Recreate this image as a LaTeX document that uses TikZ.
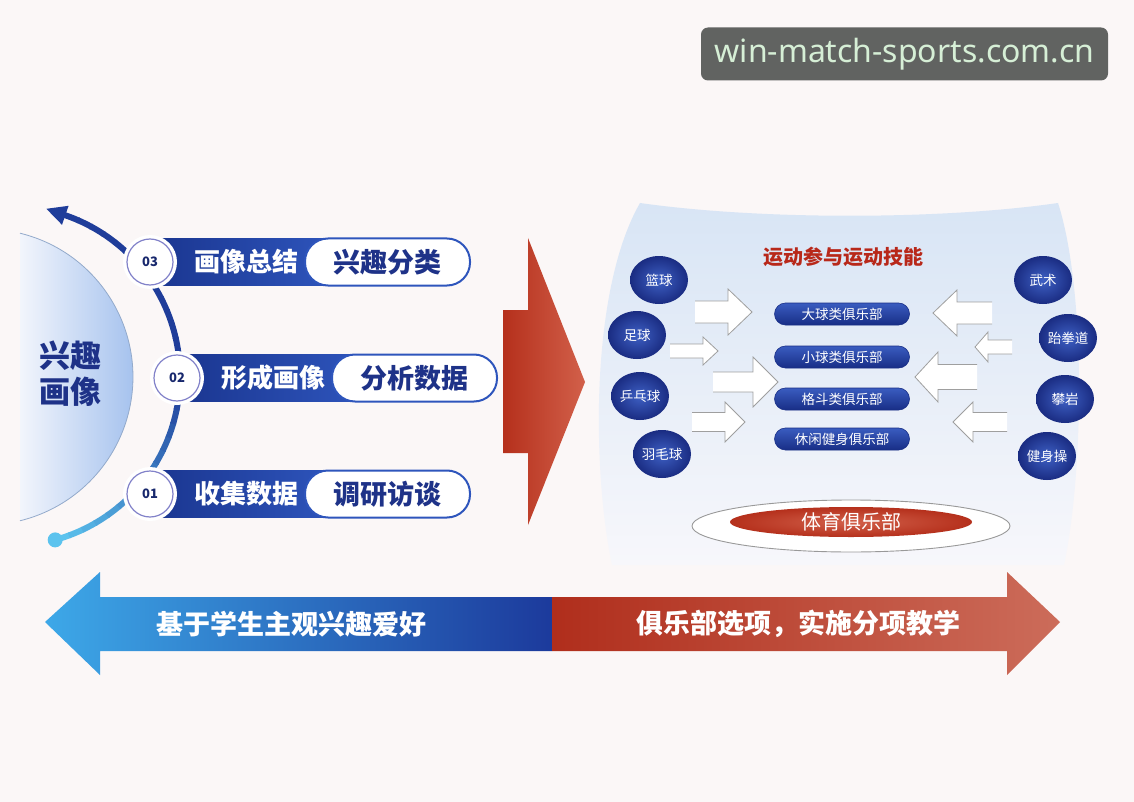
\documentclass[tikz,border=0pt]{standalone}
\usepackage{fontspec}
\setmainfont{Noto Sans CJK SC}
\newfontfamily\wmfont{Noto Sans}
\usetikzlibrary{calc}
\definecolor{bgc}{HTML}{FBF7F7}
\definecolor{navy}{HTML}{1E3288}
\definecolor{barL}{HTML}{1A358F}
\definecolor{barR}{HTML}{2E55BC}
\definecolor{arcdark}{HTML}{1F3D9A}
\definecolor{arclight}{HTML}{5CC3EE}
\definecolor{diskL}{HTML}{F2F5FC}
\definecolor{diskR}{HTML}{9CBCEC}
\definecolor{redL}{HTML}{B5301C}
\definecolor{redR}{HTML}{D2604A}
\definecolor{panelT}{HTML}{D8E5F5}
\definecolor{panelB}{HTML}{F7F7FB}
\definecolor{ttlred}{HTML}{B8281A}
\definecolor{ballin}{HTML}{3E60C4}
\definecolor{ballout}{HTML}{1A2C82}
\definecolor{pillT}{HTML}{3A5CC0}
\definecolor{pillB}{HTML}{182E86}
\definecolor{wmbg}{HTML}{616361}
\definecolor{wmtx}{HTML}{D6EFD6}
\definecolor{lblue}{HTML}{3DA8E8}
\definecolor{dblue}{HTML}{1C3A9C}
\definecolor{rdark}{HTML}{B02E1C}
\definecolor{rlight}{HTML}{CC6C5A}
\tikzset{
  numcirc/.style={circle,fill=white,draw=gray!60!blue!70,line width=1.2pt,minimum size=46pt,inner sep=0pt,font=\fontsize{13}{14}\selectfont\bfseries,text=navy!80!black},
  rowlbl/.style={font=\fontsize{26}{30}\selectfont\bfseries,text=white,inner sep=0pt},
  pillbox/.style={rectangle,rounded corners=23pt,fill=white,draw=barR,line width=2pt,minimum width=165pt,minimum height=47pt,inner sep=0pt,font=\fontsize{27}{30}\selectfont\bfseries,text=navy},
  ball/.style={ellipse,inner sep=0pt,font=\fontsize{13.5}{15}\selectfont,text=white},
  clubpill/.style={rectangle,rounded corners=11pt,top color=pillT,bottom color=pillB,draw=pillB,line width=0.6pt,minimum width=135pt,minimum height=22pt,inner sep=0pt,font=\fontsize{13.5}{15}\selectfont,text=white},
  warrowline/.style={draw=gray!75,line width=0.8pt,line join=miter},
  bigtxt/.style={font=\fontsize{27}{30}\selectfont\bfseries,text=white,inner sep=0pt}
}
\usetikzlibrary{shapes.geometric}
\newcommand\warrow[6]{% sx, hx, tx, ty, s, h
  \fill[white] (#1,#4-#5) -- (#2,#4-#5) -- (#2,#4-#6) -- (#3,#4) -- (#2,#4+#6) -- (#2,#4+#5) -- (#1,#4+#5) -- cycle;
  \draw[warrowline] (#1,#4-#5) -- (#2,#4-#5) -- (#2,#4-#6) -- (#3,#4) -- (#2,#4+#6) -- (#2,#4+#5) -- (#1,#4+#5);
}
\begin{document}
\begin{tikzpicture}[x=1pt,y=-1pt]
\fill[bgc] (0,0) rectangle (1134,802);
\useasboundingbox (0,0) rectangle (1134,802);

% watermark
\node[fill=wmbg,rounded corners=7pt,minimum width=407pt,minimum height=53pt,inner sep=0pt,text=wmtx,font=\wmfont\fontsize{32}{36}\selectfont] (wm) at (904.5,54) {win-match-sports.com.cn};

% left disk
\shade[left color=diskL,right color=diskR] (20,233.2) arc[start angle=-76.3,end angle=76.3,radius=148] -- cycle;
\draw[draw=diskR!70!gray,line width=0.8pt] (20,233.2) arc[start angle=-76.3,end angle=76.3,radius=148];
\node[font=\fontsize{31}{36}\selectfont\bfseries,text=navy,align=center,inner sep=0pt] (disk) at (70,374) {兴趣\\画像};

% arc with gradient
\foreach \i in {0,...,29}{
  \pgfmathsetmacro\a{74.6-\i*145.6/30}
  \pgfmathsetmacro\b{\a-145.6/30-0.4}
  \pgfmathtruncatemacro\p{min(100,100*\i/14)}
  \draw[line width=6pt,arcdark!\p!arclight] ($(10,376)+(\a:170)$) arc[start angle=\a,end angle=\b,radius=170];
}
\fill[arcdark] (46.4,208.8) -- (68.6,205.8) -- (62.0,224.8) -- cycle;
\coordinate (arctip) at (46.4,208.8);
\fill[arclight] (55.2,539.9) circle[radius=7.5];

% rows
\shade[left color=barL,right color=barR] (150,238.5) rectangle (335,285.5);
\shade[left color=barL,right color=barR] (177,354.5) rectangle (362,401.5);
\shade[left color=barL,right color=barR] (150,470.5) rectangle (335,517.5);
\foreach \x/\y in {150/262,177/378,150/494}{\fill[white] (\x,\y) circle[radius=27];}
\node[numcirc] (n3) at (150,262) {03};
\node[numcirc] (n2) at (177,378) {02};
\node[numcirc] (n1) at (150,494) {01};
\node[rowlbl] (l3) at (246,262) {画像总结};
\node[rowlbl] (l2) at (273,378) {形成画像};
\node[rowlbl] (l1) at (246,494) {收集数据};
\node[pillbox] (p3) at (387.5,262) {兴趣分类};
\node[pillbox] (p2) at (414.5,378) {分析数据};
\node[pillbox] (p1) at (387.5,494) {调研访谈};

% big red arrow
\shade[left color=redL,right color=redR] (503,310) -- (528,310) -- (528,238) -- (585,382) -- (528,525) -- (528,453) -- (503,453) -- cycle;

% right panel
\shade[top color=panelT,bottom color=panelB] (640,203) .. controls (760,220) and (940,220) .. (1058,203) .. controls (1086,290) and (1084,470) .. (1064,565) -- (612,565) .. controls (592,470) and (590,290) .. (640,203) -- cycle;
\node[font=\fontsize{20}{24}\selectfont\bfseries,text=ttlred,inner sep=0pt] (title) at (843,257) {运动参与运动技能};

% white arrows
\warrow{695}{728}{752}{312}{11}{23}
\warrow{670}{703}{718}{351}{7}{14}
\warrow{713}{753}{778}{382}{10}{25}
\warrow{692}{725}{745}{422}{9.5}{20}
\warrow{992}{957}{933}{313}{11}{23}
\warrow{1012}{988}{975}{347}{7}{15}
\warrow{977}{938}{915}{377}{12.5}{25}
\warrow{1007}{973}{953}{422}{9.5}{20}

% balls
\foreach \nm/\x/\y/\t in {b1/659/280/篮球,b2/637/335/足球,b3/640/396/乒乓球,b4/662/454/羽毛球,c1/1043/280/武术,c2/1068/338/跆拳道,c3/1065/399/攀岩,c4/1047/456/健身操}{
  \shade[inner color=ballin,outer color=ballout] (\x,\y) ellipse[x radius=29,y radius=24];
  \node[ball] (\nm) at (\x,\y) {\t};
}

% club pills
\node[clubpill] (k1) at (842,314) {大球类俱乐部};
\node[clubpill] (k2) at (842,357) {小球类俱乐部};
\node[clubpill] (k3) at (842,399) {格斗类俱乐部};
\node[clubpill] (k4) at (842,439) {休闲健身俱乐部};

% base ellipse
\fill[white] (851,526) ellipse[x radius=159,y radius=26];
\draw[gray!80,line width=0.9pt] (851,526) ellipse[x radius=159,y radius=26];
\shade[inner color=redR,outer color=redL] (851,522) ellipse[x radius=121,y radius=15];
\node[font=\fontsize{20}{24}\selectfont,text=white,inner sep=0pt] (club) at (851,522) {体育俱乐部};

% bottom double arrow
\shade[left color=lblue,right color=dblue] (45,622) -- (100,572) -- (100,597) -- (552,597) -- (552,651) -- (100,651) -- (100,675) -- cycle;
\shade[left color=rdark,right color=rlight] (552,597) -- (1007,597) -- (1007,572) -- (1060,622) -- (1007,675) -- (1007,651) -- (552,651) -- cycle;
\node[bigtxt] (bl) at (291,624) {基于学生主观兴趣爱好};
\node[bigtxt] (br) at (798,624) {俱乐部选项，实施分项教学};
\end{tikzpicture}
\end{document}
